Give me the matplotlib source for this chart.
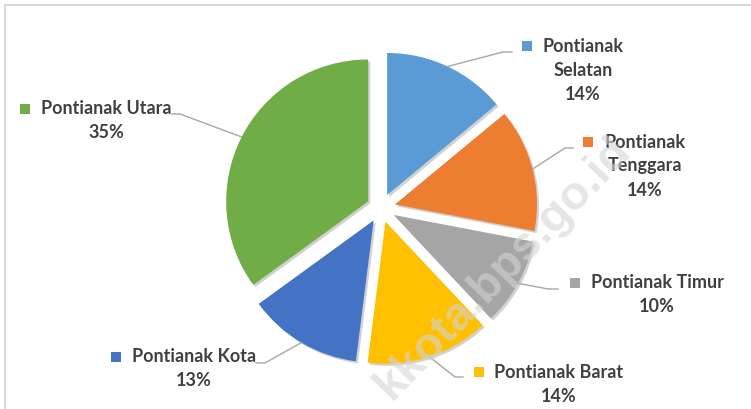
import numpy as np
import matplotlib
matplotlib.use("Agg")
import matplotlib.pyplot as plt
import matplotlib.patheffects as pe
from matplotlib.patches import Rectangle

# data
kecamatan = ["Pontianak Selatan", "Pontianak Tenggara", "Pontianak Timur",
             "Pontianak Barat", "Pontianak Kota", "Pontianak Utara"]
persen = [14, 14, 10, 14, 13, 35]
warna = ["#5B9BD5", "#ED7D31", "#A5A5A5", "#FFC000", "#4472C4", "#70AD47"]

W, H = 751, 409
def py(y):
    return H - y

fig = plt.figure(figsize=(W / 100, H / 100), dpi=100)
ax = fig.add_axes([0, 0, 1, 1])

cx, cy, r = 381, py(208), 142
wedges, _ = ax.pie(persen, colors=warna, startangle=90, counterclock=False,
                   explode=[14.4] * len(persen), center=(cx, cy), radius=r,
                   wedgeprops=dict(linewidth=0))
for w in wedges:
    w.set_path_effects([pe.SimplePatchShadow(offset=(1.5, -1.5), shadow_rgbFace="black", alpha=0.18),
                        pe.Normal()])

# label layout (pixel coords of reference): text center x, first line y, square x, elbow, end
layout = [
    (583, 46, 527, (503, 52), (512, 52), True),
    (645, 142, 588, (565, 148), (573, 148), True),
    (657, 283, 575, (548, 289), (558, 289), False),
    (559, 372, 479, (455, 377), (463, 377), False),
    (194, 357, 116, (265, 363), (256, 363), False),
    (106, 109, 25, (180, 114), (172, 114), False),
]

fnt = dict(family=["Lato", "DejaVu Sans"], fontsize=13, fontweight="bold", color="#404040")
for w, nama, p, col, (tx, ty, sx, elb, end, wrap) in zip(wedges, kecamatan, persen, warna, layout):
    # leader line from the arc midpoint of the wedge
    th = np.deg2rad((w.theta1 + w.theta2) / 2)
    x0 = w.center[0] + w.r * np.cos(th)
    y0 = w.center[1] + w.r * np.sin(th)
    ax.plot([x0, elb[0], end[0]], [y0, py(elb[1]), py(end[1])], color="#a6a6a6", lw=1, zorder=1)
    lines = nama.split(" ") if wrap else [nama]
    lines = lines + [f"{p}%"]
    for i, s in enumerate(lines):
        ax.text(tx, py(ty + 24 * i), s, ha="center", va="center", **fnt)
    ax.add_patch(Rectangle((sx - 5, py(ty) - 5), 10, 10, color=col, lw=0))

# chart border
ax.add_patch(Rectangle((5, py(H + 20)), W + 20, H + 15, fill=False, edgecolor="#d9d9d9", lw=1.5, zorder=0))

# watermark
ax.text(632, py(152), "kkota.bps.go.id", rotation=46, rotation_mode="anchor", ha="right", va="baseline",
        fontsize=34, fontweight="bold", family="Liberation Sans", color="#d4d4d4", alpha=0.6, zorder=5)

ax.set_xlim(0, W)
ax.set_ylim(0, H)
ax.set_aspect("equal", adjustable="box")
ax.axis("off")

plt.savefig("out.png", dpi=100)
